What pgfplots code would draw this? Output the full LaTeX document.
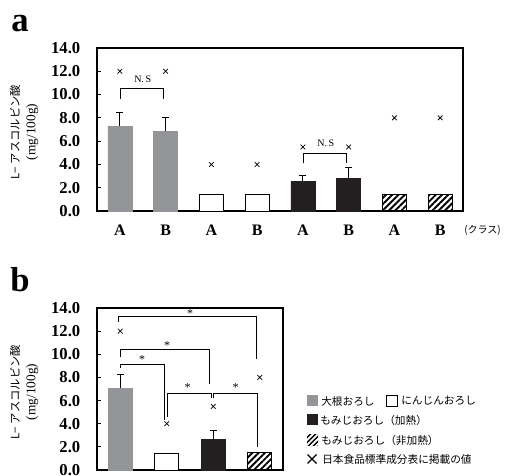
\documentclass[border=0pt]{standalone}
\usepackage{fontspec}
\setmainfont{Liberation Serif}
\newfontfamily\jp{Noto Sans CJK JP}
\usepackage{pgfplots}
\pgfplotsset{compat=1.18}
\usetikzlibrary{patterns.meta}
\definecolor{bgray}{RGB}{148,149,153}
\definecolor{bblack}{RGB}{35,31,32}
\pgfplotsset{
  common/.style={
    scale only axis, ymin=0, ymax=14, xmin=-0.5,
    ytick={0,2,...,14}, ytick pos=left, tick align=inside,
    major tick length=3pt,
    axis line style={line width=1.1pt},
    every tick/.style={black, line width=0.6pt},
    x tick style={draw=none},
    /pgf/number format/assume math mode=true,
    yticklabel={\pgfmathprintnumber[fixed,fixed zerofill,precision=1]{\tick}},
    yticklabel style={font=\bfseries\fontsize{12.5}{13}\selectfont, xshift=-9pt},
    clip=false,
  },
  gbar/.style={ybar, bar width=18pt, bar shift=0pt, fill=bgray, draw=bgray},
  wbar/.style={ybar, bar width=18pt, bar shift=0pt, fill=white, draw=black, line width=0.6pt},
  kbar/.style={ybar, bar width=18pt, bar shift=0pt, fill=bblack, draw=bblack},
  hbar/.style={ybar, bar width=18pt, bar shift=0pt, draw=black, line width=0.6pt,
    pattern={Lines[angle=45,distance=3.3pt,line width=1.4pt]}},
  eb/.style={error bars/.cd, y dir=plus, y explicit,
    error bar style={black, line width=0.7pt},
    error mark options={rotate=90, mark size=2.6pt, black, line width=0.7pt}},
  xm/.style={only marks, mark=x, mark size=2.5pt, black, mark options={line width=0.55pt}},
}
\begin{document}
\begin{tikzpicture}
\path[use as bounding box] (0,0) rectangle (378.75pt,356.25pt);
% ---------- panel a
\begin{axis}[common, at={(72.75pt,198pt)}, anchor=south west,
  width=274.5pt, height=122.25pt, xmax=7.5,
  xtick={0,...,7}, xticklabels={A,B,A,B,A,B,A,B},
  xticklabel style={font=\bfseries\fontsize{12}{13}\selectfont, yshift=-7pt}]
\addplot[gbar, eb] coordinates {(0,7.3) +- (0,1.15) (1,6.87) +- (0,1.13)};
\addplot[wbar, eb] coordinates {(2,1.43) +- (0,0.03) (3,1.43) +- (0,0.03)};
\addplot[kbar, eb] coordinates {(4,2.52) +- (0,0.5) (5,2.8) +- (0,0.92)};
\addplot[hbar] coordinates {(6,1.46) (7,1.46)};
\addplot[xm] coordinates {(0,12) (1,12) (2,4) (3,4) (4,5.5) (5,5.5) (6,8) (7,8)};
\draw[line width=0.6pt] (axis cs:0.02,9.62) -- (axis cs:0.02,10.54) -- (axis cs:0.96,10.54) -- (axis cs:0.96,9.62);
\node[font=\fontsize{7.5}{8}\selectfont] at (axis cs:0.5,11.35) {N.\,S};
\draw[line width=0.6pt] (axis cs:4.02,4.1) -- (axis cs:4.02,4.95) -- (axis cs:4.96,4.95) -- (axis cs:4.96,4.1);
\node[font=\fontsize{7.5}{8}\selectfont] at (axis cs:4.5,5.8) {N.\,S};
\end{axis}
% ---------- panel b
\begin{axis}[common, at={(72.75pt,3.75pt)}, anchor=south west,
  width=139.5pt, height=121.5pt, xmax=3.5, xtick=\empty]
\addplot[gbar, eb] coordinates {(0,7.1) +- (0,1.17)};
\addplot[wbar, eb] coordinates {(1,1.44) +- (0,0.03)};
\addplot[kbar, eb] coordinates {(2,2.68) +- (0,0.72)};
\addplot[hbar] coordinates {(3,1.5)};
\addplot[xm] coordinates {(0,12) (1,4) (2,5.5) (3,8)};
\tikzset{br/.style={line width=0.6pt}}
\draw[br] (axis cs:-0.04,12.8) -- (axis cs:-0.04,13.25) -- (axis cs:2.93,13.25) -- (axis cs:2.93,9.6);
\node[font=\fontsize{9}{9}\selectfont] at (axis cs:1.5,13.5) {*};
\draw[br] (axis cs:0.0,9.8) -- (axis cs:0.0,10.4) -- (axis cs:1.92,10.4) -- (axis cs:1.92,7.4);
\node[font=\fontsize{9}{9}\selectfont] at (axis cs:1.01,10.75) {*};
\draw[br] (axis cs:0.0,8.8) -- (axis cs:0.0,9.13) -- (axis cs:0.94,9.13) -- (axis cs:0.94,4.32);
\node[font=\fontsize{9}{9}\selectfont] at (axis cs:0.47,9.55) {*};
\draw[br] (axis cs:1.01,4.6) -- (axis cs:1.01,6.63) -- (axis cs:1.95,6.63) -- (axis cs:1.95,6.2);
\node[font=\fontsize{9}{9}\selectfont] at (axis cs:1.45,7.1) {*};
\draw[br] (axis cs:2.01,6.2) -- (axis cs:2.01,6.63) -- (axis cs:2.96,6.63) -- (axis cs:2.96,2.0);
\node[font=\fontsize{9}{9}\selectfont] at (axis cs:2.48,7.1) {*};
\end{axis}
% ---------- text, legend
\begin{scope}[x=0.75pt,y=0.75pt]
\node[font=\bfseries\fontsize{26}{26}\selectfont] at (20,451) {a};
\node[font=\bfseries\fontsize{26}{26}\selectfont] at (20,195) {b};
\node[rotate=90, align=center, font=\fontsize{10}{12}\selectfont] at (24,343)
  {{\jp\fontsize{8.5}{10}\selectfont L− アスコルビン酸}\\(mg/100g)};
\node[rotate=90, align=center, font=\fontsize{10}{12}\selectfont] at (24,83)
  {{\jp\fontsize{8.5}{10}\selectfont L− アスコルビン酸}\\(mg/100g)};
\node[font=\jp\fontsize{7.5}{8}\selectfont, anchor=west, inner sep=0pt] at (464,245) {(クラス)};
% legend
\tikzset{lt/.style={anchor=west, font=\jp\fontsize{8}{9}\selectfont, inner sep=0pt}}
\fill[bgray] (307,69) rectangle (318,80);
\node[lt] at (321,74) {大根おろし};
\draw[line width=0.6pt, fill=white] (386.5,69) rectangle (397,79.5);
\node[lt] at (401,74) {にんじんおろし};
\fill[bblack] (307,50) rectangle (318,61);
\node[lt] at (320,55) {もみじおろし（加熱）};
\fill[pattern={Lines[angle=45,distance=2.6pt,line width=1.1pt]}] (307,30) rectangle (318,41);
\node[lt] at (321,35) {もみじおろし（非加熱）};
\draw[line width=1pt] (307.5,11.5) -- (316.5,20.5) (307.5,20.5) -- (316.5,11.5);
\node[lt] at (322,16) {日本食品標準成分表に掲載の値};
\end{scope}
\end{tikzpicture}
\end{document}
